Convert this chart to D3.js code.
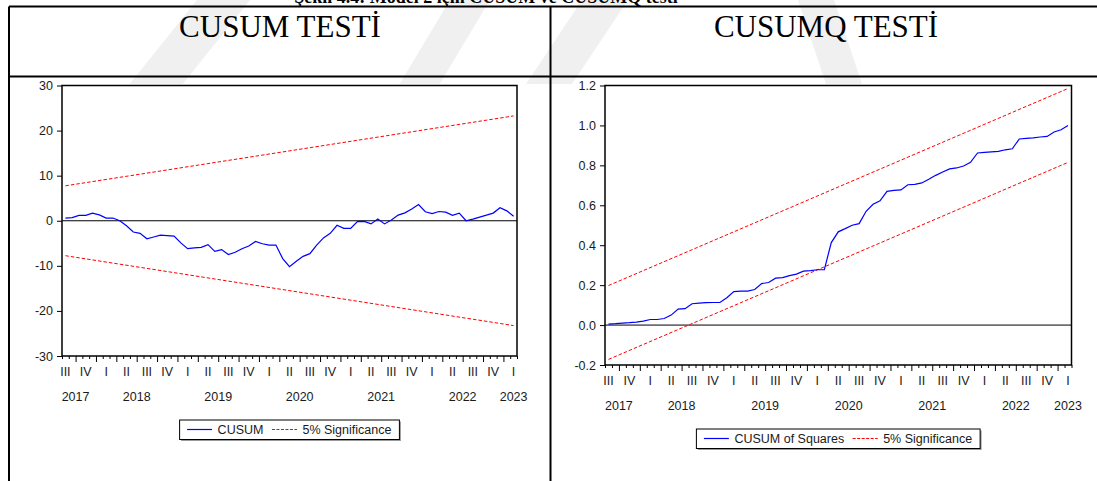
<!DOCTYPE html>
<html>
<head>
<meta charset="utf-8">
<script src="https://cdnjs.cloudflare.com/ajax/libs/d3/7.8.5/d3.min.js"></script>
<style>
  body { margin: 0; background: #fff; }
  svg { display: block; }
</style>
</head>
<body>
<svg id="chart" width="1097" height="481"></svg>
<script>
// monthly observations, Jul 2017 .. Jan 2023
const quarterLabels = ['III','IV','I','II','III','IV','I','II','III','IV','I','II','III','IV','I','II','III','IV','I','II','III','IV','I'];
const quarterYear = [0,0,1,1,1,1,2,2,2,2,3,3,3,3,4,4,4,4,5,5,5,5,6];
const yearLabels = ['2017','2018','2019','2020','2021','2022','2023'];

const cusum = [0.6,0.7,1.2,1.2,1.7,1.3,0.6,0.6,0.0,-1.1,
  -2.5,-2.8,-4.0,-3.6,-3.2,-3.3,-3.4,-4.9,-6.2,-6.0,
  -5.9,-5.3,-6.8,-6.4,-7.5,-7.0,-6.2,-5.6,-4.6,-5.1,
  -5.4,-5.4,-8.4,-10.2,-9.0,-7.9,-7.3,-5.4,-3.8,-2.8,
  -1.0,-1.7,-1.7,-0.2,-0.15,-0.7,0.4,-0.7,0.15,1.25,
  1.75,2.6,3.6,2.0,1.6,2.05,1.9,1.2,1.7,0.0,
  0.35,0.8,1.25,1.7,2.9,2.2,1.0];

const cusumq = [0.005,0.007,0.010,0.012,0.015,0.020,0.028,0.028,0.033,0.050,
  0.080,0.082,0.107,0.110,0.112,0.113,0.113,0.137,0.168,0.170,
  0.170,0.178,0.208,0.213,0.235,0.238,0.248,0.255,0.270,0.273,
  0.277,0.278,0.413,0.467,0.483,0.500,0.508,0.570,0.605,0.622,
  0.670,0.675,0.677,0.703,0.705,0.712,0.730,0.750,0.767,0.782,
  0.787,0.797,0.815,0.862,0.865,0.868,0.870,0.878,0.883,0.932,
  0.935,0.938,0.942,0.945,0.967,0.978,1.000];

// 5% bounds at first and last observation
const cusumUpper = [7.75, 23.25];
const cusumLower = [-7.75, -23.25];
const cusumqUpper = [0.198, 1.185];
const cusumqLower = [-0.172, 0.815];

const cusumTicks = [-30,-20,-10,0,10,20,30];
const cusumqTicks = [-0.2,0,0.2,0.4,0.6,0.8,1.0,1.2];

const svg = d3.select('#chart');
const sans = '"Liberation Sans", Arial, sans-serif';
const serif = '"Liberation Serif", "Times New Roman", serif';
const textCol = '#1a1a1a';

// faint watermark bands in the header row
const wm = svg.append('g').attr('clip-path', 'url(#hdrClip)');
svg.append('clipPath').attr('id', 'hdrClip')
  .append('rect').attr('x', 0).attr('y', 0).attr('width', 1097).attr('height', 84);
[
  [[197,0],[250,0],[0,312],[0,246]],
  [[450,0],[490,0],[418,120],[378,120]],
  [[582,0],[628,0],[548,120],[502,120]],
  [[798,0],[834,0],[874,120],[838,120]]
].forEach(p => wm.append('polygon').attr('points', p.join(' ')).attr('fill', '#f0f0f0'));

// caption cut at top edge
svg.append('text').attr('x', 486).attr('y', 3).attr('text-anchor', 'middle')
  .attr('font-family', serif).attr('font-weight', 'bold').attr('font-size', 18)
  .attr('fill', '#000').text('Şekil 4.4: Model 2 için CUSUM ve CUSUMQ testi');

// table grid
const grid = svg.append('g').attr('stroke', '#000').attr('stroke-width', 2);
grid.append('line').attr('x1', 9).attr('x2', 1097).attr('y1', 6.5).attr('y2', 6.5);
grid.append('line').attr('x1', 9).attr('x2', 1097).attr('y1', 76.5).attr('y2', 76.5);
grid.append('line').attr('x1', 9).attr('x2', 9).attr('y1', 6.5).attr('y2', 481);
grid.append('line').attr('x1', 550.5).attr('x2', 550.5).attr('y1', 6.5).attr('y2', 481);

svg.append('text').attr('x', 280).attr('y', 37).attr('text-anchor', 'middle')
  .attr('font-family', serif).attr('font-size', 31).attr('fill', '#000').text('CUSUM TESTİ');
svg.append('text').attr('x', 826).attr('y', 37).attr('text-anchor', 'middle')
  .attr('font-family', serif).attr('font-size', 31).attr('fill', '#000').text('CUSUMQ TESTİ');

function drawPanel(cfg) {
  const n = cfg.values.length;
  const x = d3.scaleLinear().domain([-0.5, n - 0.5]).range([cfg.x0, cfg.x1]);
  const y = d3.scaleLinear().domain(cfg.yDomain).range([cfg.y1, cfg.y0]);
  const g = svg.append('g');

  g.append('rect').attr('x', cfg.x0).attr('y', cfg.y0)
    .attr('width', cfg.x1 - cfg.x0).attr('height', cfg.y1 - cfg.y0).attr('fill', '#fff');

  const clipId = cfg.id + 'Clip';
  g.append('clipPath').attr('id', clipId).append('rect')
    .attr('x', cfg.x0).attr('y', cfg.y0).attr('width', cfg.x1 - cfg.x0).attr('height', cfg.y1 - cfg.y0);
  const plot = g.append('g').attr('clip-path', `url(#${clipId})`);

  // zero line
  plot.append('line').attr('x1', cfg.x0).attr('x2', cfg.x1)
    .attr('y1', y(0)).attr('y2', y(0)).attr('stroke', '#000').attr('stroke-width', 1);

  const line = d3.line().x(d => x(d[0])).y(d => y(d[1]));
  [cfg.upper, cfg.lower].forEach(b => {
    plot.append('path').attr('d', line([[0, b[0]], [n - 1, b[1]]]))
      .attr('fill', 'none').attr('stroke', '#ff0000').attr('stroke-width', 1)
      .attr('stroke-dasharray', '3.5,2');
  });
  plot.append('path').attr('d', line(cfg.values.map((v, i) => [i, v])))
    .attr('fill', 'none').attr('stroke', '#0000ff').attr('stroke-width', 1.2);

  // y axis
  const yAxis = g.append('g').attr('transform', `translate(${cfg.x0},0)`)
    .call(d3.axisLeft(y).tickValues(cfg.yTicks).tickFormat(cfg.yFormat).tickSize(5).tickPadding(4));
  yAxis.select('.domain').remove();
  yAxis.selectAll('text').attr('font-family', sans).attr('font-size', 12.5).attr('fill', textCol);
  yAxis.selectAll('line').attr('stroke', '#000');

  // x ticks at month boundaries, long ones between quarters
  const bounds = d3.range(-0.5, n, 1);
  const isLong = b => (((b - 1.5) % 3) + 3) % 3 === 0;
  const xs = g.append('g').attr('transform', `translate(0,${cfg.y1})`)
    .call(d3.axisBottom(x).tickValues(bounds.filter(b => !isLong(b))).tickFormat('').tickSize(3));
  xs.select('.domain').remove();
  const xl = g.append('g').attr('transform', `translate(0,${cfg.y1})`)
    .call(d3.axisBottom(x).tickValues(bounds.filter(isLong)).tickFormat('').tickSize(6));
  xl.select('.domain').remove();
  g.selectAll('.tick line').attr('stroke', '#000');

  const qPos = quarterLabels.map((q, k) => 3 * k);
  g.selectAll('.qlab').data(quarterLabels).enter().append('text')
    .attr('x', (d, k) => x(qPos[k])).attr('y', cfg.y1 + 20)
    .attr('text-anchor', 'middle').attr('font-family', sans).attr('font-size', 12.5)
    .attr('fill', textCol).text(d => d);

  g.selectAll('.ylab').data(yearLabels).enter().append('text')
    .attr('x', (d, j) => x(d3.mean(qPos.filter((p, k) => quarterYear[k] === j))))
    .attr('y', cfg.y1 + 44.5)
    .attr('text-anchor', 'middle').attr('font-family', sans).attr('font-size', 12.5)
    .attr('fill', textCol).text(d => d);

  // frame
  g.append('rect').attr('x', cfg.x0).attr('y', cfg.y0)
    .attr('width', cfg.x1 - cfg.x0).attr('height', cfg.y1 - cfg.y0)
    .attr('fill', 'none').attr('stroke', '#000').attr('stroke-width', 1.5);

  // legend
  const lg = g.append('g');
  const ly = cfg.y1 + 73.5;
  const items = [
    { label: cfg.legendLabel, color: '#0000ff', dash: null },
    { label: '5% Significance', color: '#ff0000', dash: '3,1.5' }
  ];
  let cx = 0;
  const parts = [];
  items.forEach((it, k) => {
    if (k > 0) cx += 8.5;
    const ln = lg.append('line').attr('x1', cx).attr('x2', cx + 25).attr('y1', ly).attr('y2', ly)
      .attr('stroke', it.color).attr('stroke-width', 1.2);
    if (it.dash) ln.attr('stroke-dasharray', it.dash);
    cx += 30.5;
    const t = lg.append('text').attr('x', cx).attr('y', ly + 4.5)
      .attr('font-family', sans).attr('font-size', 12.5).attr('fill', textCol).text(it.label);
    cx += t.node().getComputedTextLength();
    parts.push(ln, t);
  });
  const w = cx + 15.5;
  const left = (cfg.x0 + cfg.x1) / 2 - w / 2;
  lg.insert('rect', ':first-child').attr('x', -7.5 + 1.5).attr('y', ly - 9.5 + 1.5)
    .attr('width', w).attr('height', 19.5).attr('fill', '#999');
  lg.insert('rect', ':nth-child(2)').attr('x', -7.5).attr('y', ly - 9.5)
    .attr('width', w).attr('height', 19.5).attr('fill', '#fff').attr('stroke', '#000').attr('stroke-width', 1);
  lg.attr('transform', `translate(${left + 7.5},0)`);
}

drawPanel({
  id: 'cusum', values: cusum, upper: cusumUpper, lower: cusumLower,
  x0: 62, x1: 517, y0: 85.5, y1: 356, yDomain: [-30, 30],
  yTicks: cusumTicks, yFormat: d => String(d), legendLabel: 'CUSUM'
});
drawPanel({
  id: 'cusumq', values: cusumq, upper: cusumqUpper, lower: cusumqLower,
  x0: 605, x1: 1071.5, y0: 85.5, y1: 365, yDomain: [-0.2, 1.2],
  yTicks: cusumqTicks, yFormat: d => d.toFixed(1), legendLabel: 'CUSUM of Squares'
});
</script>
</body>
</html>
